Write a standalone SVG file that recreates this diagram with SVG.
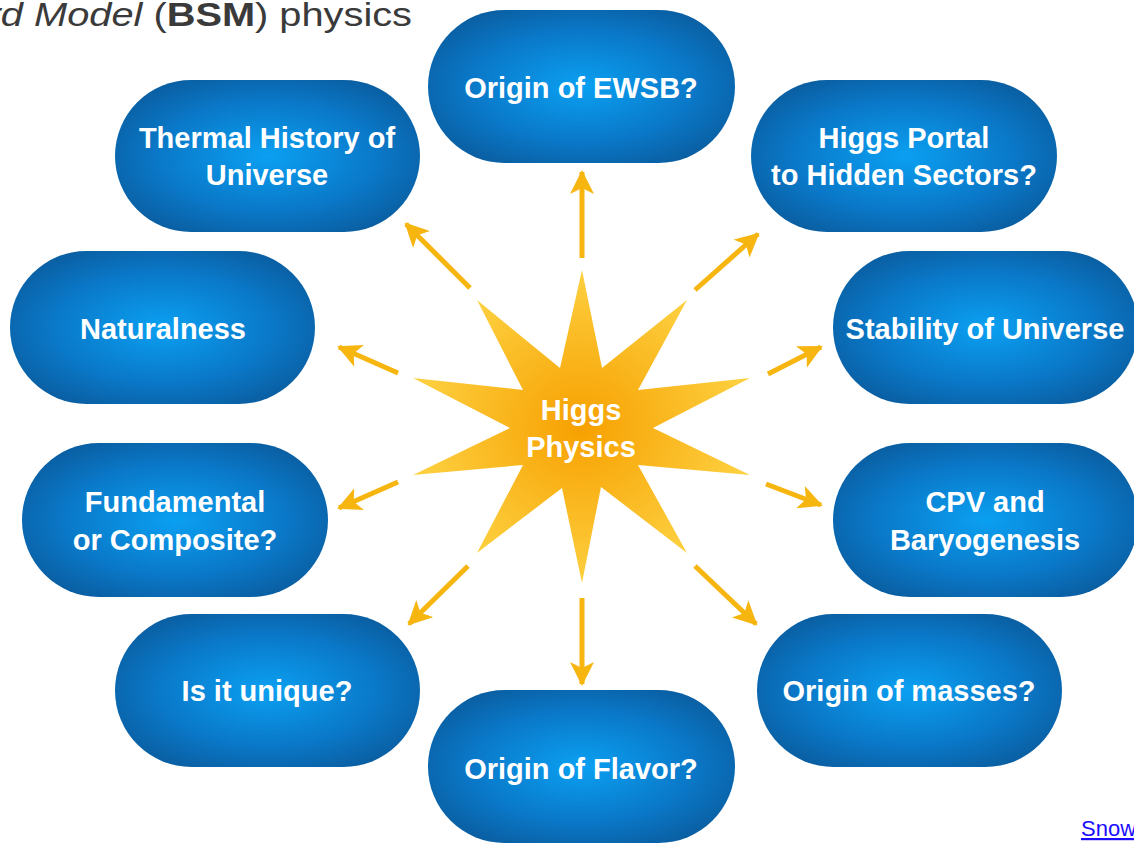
<svg xmlns="http://www.w3.org/2000/svg" width="1134" height="843" viewBox="0 0 1134 843">
<style>
.lbl{font-family:"Liberation Sans",Arial,sans-serif;font-weight:bold;font-size:29px;fill:#ffffff;text-anchor:middle}
.pill{fill:url(#blue)}
.arr{stroke:#f6b50f;stroke-width:5;fill:none;marker-end:url(#ah)}
</style>
<defs>
<radialGradient id="blue" cx="0.5" cy="0.5" r="0.6">
<stop offset="0" stop-color="#0ba0f2"/>
<stop offset="0.6" stop-color="#0a78c8"/>
<stop offset="1" stop-color="#0a5c9e"/>
</radialGradient>
<radialGradient id="star" cx="0.5" cy="0.5" r="0.5">
<stop offset="0" stop-color="#f7a000"/>
<stop offset="1" stop-color="#fdd040"/>
</radialGradient>
<marker id="ah" markerUnits="userSpaceOnUse" markerWidth="26" markerHeight="24" refX="22" refY="12" orient="auto">
<path d="M0,0 L24,12 L0,24 L6,12 Z" fill="#f6b50f"/>
</marker>
</defs>
<rect width="1134" height="843" fill="#ffffff"/>
<text transform="translate(412,26) scale(1.17,1)" x="0" y="0" font-family="&quot;Liberation Sans&quot;,Arial,sans-serif" font-size="34" fill="#3a3a3a" text-anchor="end"><tspan font-style="italic">rd Model</tspan> (<tspan font-weight="bold">BSM</tspan>) physics</text>
<g id="connectors">
<line class="arr" x1="582" y1="258" x2="582" y2="172"/>
<line class="arr" x1="582" y1="598" x2="582" y2="684"/>
<line class="arr" x1="470" y1="288" x2="406" y2="224"/>
<line class="arr" x1="695" y1="290" x2="758" y2="234"/>
<line class="arr" x1="398" y1="373" x2="339" y2="347"/>
<line class="arr" x1="398" y1="482" x2="339" y2="508"/>
<line class="arr" x1="768" y1="374" x2="821" y2="347"/>
<line class="arr" x1="766" y1="484" x2="821" y2="505"/>
<line class="arr" x1="468" y1="566" x2="409" y2="624"/>
<line class="arr" x1="695" y1="566" x2="756" y2="624"/>
</g>
<g id="higgs">
<polygon fill="url(#star)" points="582,270 602,368 687,300 638,390 750,378 653,428 750,475 638,465 687,553 601,487 582,583 562,488 477,553 523,465 413,475 510,428 413,378 523,390 477,300 560,368"/>
<text class="lbl" x="581" y="420" font-size="27">Higgs</text>
<text class="lbl" x="581" y="457" font-size="27">Physics</text>
</g>
<g id="ewsb"><rect class="pill" x="428" y="10" width="307" height="153" rx="76.5"/><text class="lbl" x="581" y="98">Origin of EWSB?</text></g>
<g id="thermal"><rect class="pill" x="115" y="80" width="305" height="152" rx="76"/><text class="lbl" x="267" y="148">Thermal History of</text><text class="lbl" x="267" y="185">Universe</text></g>
<g id="portal"><rect class="pill" x="751" y="80" width="306" height="152" rx="76"/><text class="lbl" x="904" y="148">Higgs Portal</text><text class="lbl" x="904" y="185">to Hidden Sectors?</text></g>
<g id="naturalness"><rect class="pill" x="10" y="251" width="305" height="153" rx="76.5"/><text class="lbl" x="163" y="339">Naturalness</text></g>
<g id="stability"><rect class="pill" x="833" y="251" width="305" height="153" rx="76.5"/><text class="lbl" x="985" y="339">Stability of Universe</text></g>
<g id="fundamental"><rect class="pill" x="22" y="443" width="306" height="154" rx="77"/><text class="lbl" x="175" y="512">Fundamental</text><text class="lbl" x="175" y="550">or Composite?</text></g>
<g id="cpv"><rect class="pill" x="833" y="443" width="305" height="154" rx="77"/><text class="lbl" x="985" y="512">CPV and</text><text class="lbl" x="985" y="550">Baryogenesis</text></g>
<g id="unique"><rect class="pill" x="115" y="614" width="305" height="153" rx="76.5"/><text class="lbl" x="267" y="701">Is it unique?</text></g>
<g id="masses"><rect class="pill" x="757" y="614" width="305" height="153" rx="76.5"/><text class="lbl" x="909" y="701">Origin of masses?</text></g>
<g id="flavor"><rect class="pill" x="428" y="690" width="307" height="153" rx="76.5"/><text class="lbl" x="581" y="779">Origin of Flavor?</text></g>
<text x="1081" y="836" font-family="&quot;Liberation Sans&quot;,Arial,sans-serif" font-size="22" fill="#1a0dff" text-decoration="underline">Snow</text>
</svg>
